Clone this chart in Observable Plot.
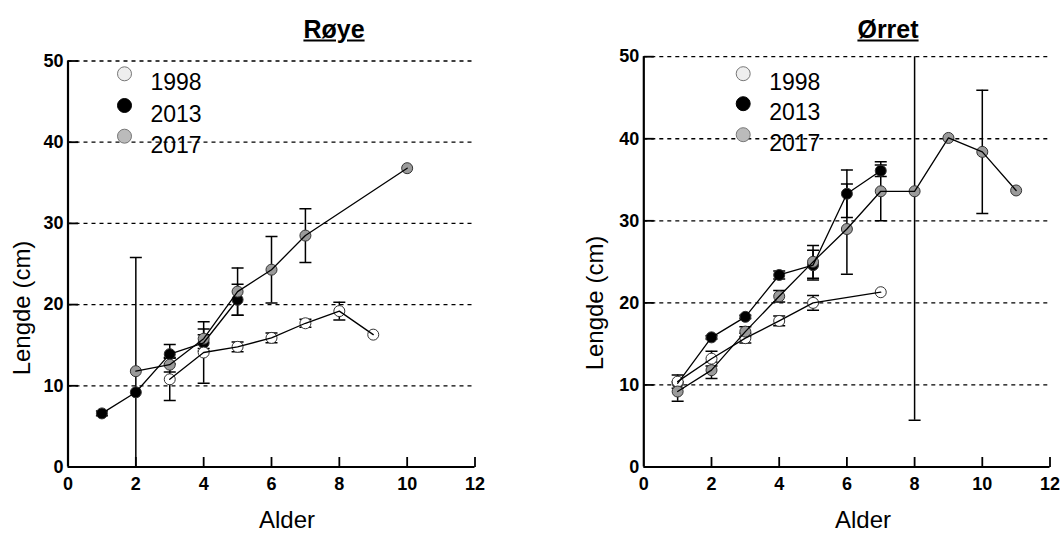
<!DOCTYPE html>
<html><head><meta charset="utf-8">
<script src="https://cdn.jsdelivr.net/npm/d3@7"></script>
<script src="https://cdn.jsdelivr.net/npm/@observablehq/plot@0.6"></script>
<style>
body{margin:0;background:#fff;}
#root{position:relative;width:1063px;height:534px;overflow:hidden;font-family:"Liberation Sans",Arial,sans-serif;color:#000;}
.panel{position:absolute;top:0;}
.title{position:absolute;font-weight:bold;font-size:25px;text-decoration:underline;transform:translate(-50%,-50%);white-space:nowrap;}
.xlabel{position:absolute;font-size:24px;transform:translate(-50%,-50%);white-space:nowrap;}
.ylabel{position:absolute;font-size:24px;transform:translate(-50%,-50%) rotate(-90deg);white-space:nowrap;}
</style></head>
<body>
<div id="root"></div>
<script>
// ---------- data ----------
const years = ["1998", "2013", "2017"];
const xTicks = [0, 2, 4, 6, 8, 10, 12];
const yTicks = [0, 10, 20, 30, 40, 50];
const gridValues = [10, 20, 30, 40, 50];
const titles = ["Røye", "Ørret"];
const xLabel = "Alder";
const yLabel = "Lengde (cm)";

// Røye
const royeAge1998 = [3, 4, 5, 6, 7, 8, 9];
const royeLen1998 = [10.8, 14.1, 14.8, 15.9, 17.7, 19.2, 16.3];
const royeErr1998 = [2.6, 3.8, 0.6, 0.6, 0.5, 1.1, 0];
const royeAge2013 = [1, 2, 3, 4, 5];
const royeLen2013 = [6.6, 9.2, 13.9, 15.3, 20.6];
const royeErr2013 = [0.3, 0, 1.2, 1.0, 1.9];
const royeAge2017 = [2, 3, 4, 5, 6, 7, 10];
const royeLen2017 = [11.8, 12.6, 15.8, 21.6, 24.3, 28.5, 36.8];
const royeErr2017 = [14.0, 0.9, 1.2, 2.9, 4.1, 3.3, 0];

// Ørret
const orretAge1998 = [1, 2, 3, 4, 5, 7];
const orretLen1998 = [10.4, 13.2, 15.7, 17.8, 20.0, 21.3];
const orretErr1998 = [0.8, 0.9, 0.6, 0.6, 0.9, 0];
const orretAge2013 = [1, 2, 3, 4, 5, 6, 7];
const orretLen2013 = [10.2, 15.8, 18.3, 23.4, 24.6, 33.3, 36.1];
const orretErr2013 = [0, 0.2, 0.2, 0.5, 1.8, 2.9, 0.7];
const orretAge2017 = [1, 2, 3, 4, 5, 6, 7, 8, 9, 10, 11];
const orretLen2017 = [9.2, 11.8, 16.5, 20.8, 25.0, 29.0, 33.6, 33.6, 40.1, 38.4, 33.7];
const orretErr2017 = [1.2, 1.0, 0.6, 0.7, 2.0, 5.5, 3.6, 27.9, 0, 7.5, 0];

// ---------- build ----------
function rows(year, ages, lens, errs) {
  return ages.map((a, i) => ({year, age: a, len: lens[i], err: errs[i]}));
}
const royeData = [
  ...rows("2013", royeAge2013, royeLen2013, royeErr2013),
  ...rows("1998", royeAge1998, royeLen1998, royeErr1998),
  ...rows("2017", royeAge2017, royeLen2017, royeErr2017)
];
const orretData = [
  ...rows("2013", orretAge2013, orretLen2013, orretErr2013),
  ...rows("1998", orretAge1998, orretLen1998, orretErr1998),
  ...rows("2017", orretAge2017, orretLen2017, orretErr2017)
];

const dotFill = {"1998": "#ffffff", "2013": "#000000", "2017": "#9a9a9a"};
const legendFill = {"1998": "#eeeeee", "2013": "#000000", "2017": "#bbbbbb"};
const legendStroke = {"1998": "#777777", "2013": "#000000", "2017": "#777777"};

const capSymbol = {draw(ctx) { ctx.moveTo(-6, 0); ctx.lineTo(6, 0); }};
const tickUp = {draw(ctx) { ctx.moveTo(0, 0); ctx.lineTo(0, -10); }};
const tickRight = {draw(ctx) { ctx.moveTo(0, 0); ctx.lineTo(10, 0); }};

const tickFont = {fontSize: 18, fontFamily: "'Liberation Sans',Arial,sans-serif"};

function chart(data, cfg) {
  const withErr = data.filter(d => d.err > 0);
  const marks = [
    Plot.ruleY(gridValues, {stroke: "#000", strokeWidth: 1.3, strokeDasharray: "4,4"}),
    Plot.ruleX([0], {stroke: "#000", strokeWidth: 2.2}),
    Plot.ruleY([0], {stroke: "#000", strokeWidth: 2.2}),
    Plot.dot(xTicks.filter(t => t > 0), {x: d => d, y: () => 0, symbol: tickUp, r: 5, stroke: "#000", strokeWidth: 1.8, fill: "none"}),
    Plot.dot(yTicks.filter(t => t > 0), {x: () => 0, y: d => d, symbol: tickRight, r: 5, stroke: "#000", strokeWidth: 1.8, fill: "none"}),
    Plot.axisX(xTicks, {tickSize: 0, tickPadding: 10.5, label: null, ...tickFont}),
    Plot.axisY(yTicks, {tickSize: 0, tickPadding: 4.5, label: null, ...tickFont}),
    Plot.ruleX(withErr, {x: "age", y1: d => d.len - d.err, y2: d => d.len + d.err, stroke: "#000", strokeWidth: 1.5, clip: true}),
    Plot.dot(withErr, {x: "age", y: d => d.len - d.err, symbol: capSymbol, r: 5, stroke: "#000", strokeWidth: 1.5, fill: "none", clip: true}),
    Plot.dot(withErr, {x: "age", y: d => d.len + d.err, symbol: capSymbol, r: 5, stroke: "#000", strokeWidth: 1.5, fill: "none", clip: true}),
    Plot.dot(data, {x: "age", y: "len", r: 5.5, fill: d => dotFill[d.year], stroke: "#333", strokeWidth: 1}),
    Plot.line(data, {x: "age", y: "len", z: "year", stroke: "#000", strokeWidth: 1.3})
  ];
  years.forEach((yr, i) => {
    marks.push(Plot.dot([yr], {frameAnchor: "top-left", dx: cfg.legDx, dy: cfg.legDy[i], r: 7, fill: legendFill[yr], stroke: legendStroke[yr], strokeWidth: 1}));
    marks.push(Plot.text([yr], {text: d => d, frameAnchor: "top-left", dx: cfg.legDx + 26, dy: cfg.legDy[i] + 9, textAnchor: "start", lineAnchor: "middle", fontSize: 23, fontFamily: "'Liberation Sans',Arial,sans-serif", fill: "#000"}));
  });
  const svg = Plot.plot({
    width: cfg.width, height: 534,
    marginLeft: cfg.ml, marginRight: cfg.mr, marginTop: cfg.mt, marginBottom: 67.5,
    x: {domain: [0, 12]},
    y: {domain: [0, 50]},
    style: {background: "transparent", fontFamily: "'Liberation Sans',Arial,sans-serif", overflow: "visible"},
    marks
  });
  d3.select(svg).selectAll("g[aria-label$='tick label']").attr("font-weight", "bold").attr("fill", "#000");
  return svg;
}

const root = document.getElementById("root");
function place(el, left) {
  const wrap = document.createElement("div");
  wrap.className = "panel";
  wrap.style.left = left + "px";
  wrap.appendChild(el);
  root.appendChild(wrap);
}
function label(cls, text, x, y) {
  const d = document.createElement("div");
  d.className = cls;
  d.textContent = text;
  d.style.left = x + "px";
  d.style.top = y + "px";
  root.appendChild(d);
}

place(chart(royeData, {width: 530, ml: 67.5, mr: 55.5, mt: 60.5, legDx: 56.5, legDy: [12.8, 44.5, 75.2]}), 0);
place(chart(orretData, {width: 533, ml: 113.3, mr: 13.5, mt: 56.2, legDx: 99.4, legDy: [17, 47, 78]}), 530);

label("title", titles[0], 334, 29);
label("title", titles[1], 888, 29);
label("xlabel", xLabel, 287, 520);
label("xlabel", xLabel, 863, 520);
label("ylabel", yLabel, 22, 308);
label("ylabel", yLabel, 595, 303);
</script>
</body></html>
